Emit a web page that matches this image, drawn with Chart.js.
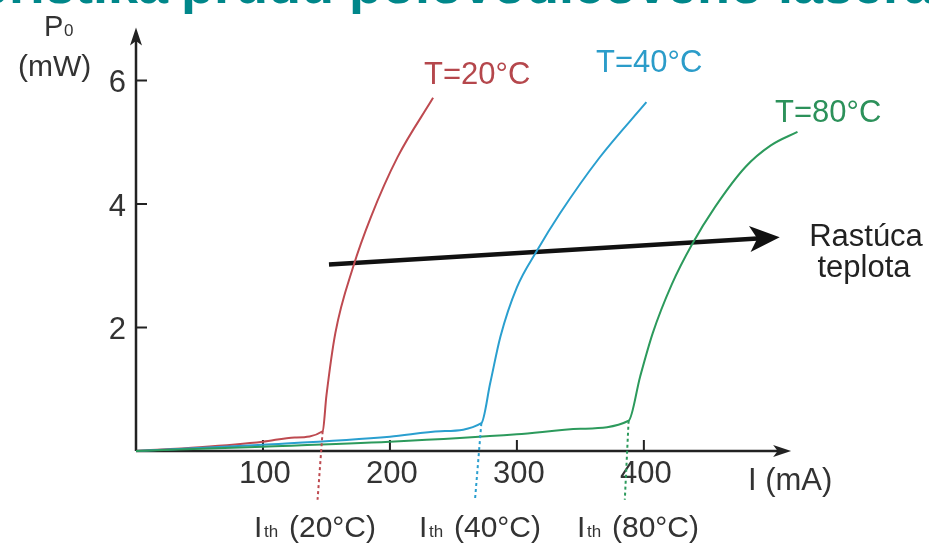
<!DOCTYPE html>
<html>
<head>
<meta charset="utf-8">
<script src="https://cdn.jsdelivr.net/npm/chart.js@4/dist/chart.umd.min.js"></script>
<style>
  body { margin: 0; background: #fff; }
  canvas { display: block; }
</style>
</head>
<body>
<canvas id="laserChart" width="929" height="544"></canvas>
<script>
// current (mA) vs optical power (mW) for the three temperatures
const current20 = [0, 50, 100, 125, 147, 150, 157, 171, 185, 206, 234];
const power20 = [0, 0.06, 0.15, 0.22, 0.32, 0.9, 1.91, 2.98, 3.79, 4.76, 5.72];

const current40 = [0, 100, 200, 240, 272, 279, 287, 300, 316, 334, 365, 402];
const power40 = [0, 0.1, 0.23, 0.32, 0.45, 1.1, 1.85, 2.65, 3.25, 3.85, 4.75, 5.65];

const current80 = [0, 100, 200, 300, 350, 388, 397, 407, 422, 438, 456, 480, 500, 521];
const power80 = [0, 0.07, 0.15, 0.27, 0.36, 0.49, 1.2, 1.91, 2.7, 3.35, 3.95, 4.6, 4.95, 5.17];

// threshold markers (kink down below the axis)
const thresholdCurrent = [[147, 143], [272, 267], [388, 385]];
const thresholdPower = [[0.32, -0.79], [0.45, -0.79], [0.49, -0.79]];

// "rising temperature" arrow
const arrowCurrent = [152, 496];
const arrowPower = [3.02, 3.45];

const xTicks = [100, 200, 300, 400];
const yTicks = [2, 4, 6];
const seriesLabels = ["T=20°C", "T=40°C", "T=80°C"];
const thresholdLabels = ["(20°C)", "(40°C)", "(80°C)"];

const RED = "#be4a50";
const BLUE = "#2a9fcf";
const GREEN = "#2c9a5c";
const FONT = "'Liberation Sans', Arial, sans-serif";

function toPoints(xs, ys) {
    return xs.map((x, i) => ({ x: x, y: ys[i] }));
}

function curve(xs, ys, color) {
    return {
        data: toPoints(xs, ys),
        showLine: true,
        borderColor: color,
        borderWidth: 2,
        pointRadius: 0,
        cubicInterpolationMode: "monotone",
        clip: false
    };
}

function dotted(i, color) {
    return {
        data: toPoints(thresholdCurrent[i], thresholdPower[i]),
        showLine: true,
        borderColor: color,
        borderWidth: 2,
        borderDash: [3, 3],
        pointRadius: 0,
        clip: false
    };
}

function arrowHead(ctx, x1, y1, x2, y2, len, half) {
    const a = Math.atan2(y2 - y1, x2 - x1);
    ctx.beginPath();
    ctx.moveTo(x2, y2);
    ctx.lineTo(x2 - len * Math.cos(a) + half * Math.sin(a), y2 - len * Math.sin(a) - half * Math.cos(a));
    ctx.lineTo(x2 - len * 0.75 * Math.cos(a), y2 - len * 0.75 * Math.sin(a));
    ctx.lineTo(x2 - len * Math.cos(a) - half * Math.sin(a), y2 - len * Math.sin(a) + half * Math.cos(a));
    ctx.closePath();
    ctx.fill();
}

const decorations = {
    id: "decorations",
    beforeDatasetsDraw(chart) {
        const ctx = chart.ctx;
        const xs = chart.scales.x;
        const ys = chart.scales.y;
        const x0 = xs.getPixelForValue(0);
        const y0 = ys.getPixelForValue(0);

        ctx.save();
        // cut-off title, only its lower edge is visible
        ctx.fillStyle = "#00878a";
        ctx.font = "bold 54px " + FONT;
        ctx.textBaseline = "alphabetic";
        ctx.textAlign = "right";
        ctx.fillText("charakteristika", 168, 3);
        ctx.textAlign = "left";
        ctx.fillText("prúdu polovodičového lasera", 181, 3);

        // axes
        ctx.strokeStyle = "#222";
        ctx.fillStyle = "#222";
        ctx.lineWidth = 2.5;
        const xEnd = xs.getPixelForValue(516);
        const yEnd = ys.getPixelForValue(6.86);
        ctx.beginPath();
        ctx.moveTo(x0, y0);
        ctx.lineTo(xEnd - 10, y0);
        ctx.moveTo(x0, y0);
        ctx.lineTo(x0, yEnd + 10);
        ctx.stroke();
        arrowHead(ctx, x0, y0, xEnd, y0, 18, 6);
        arrowHead(ctx, x0, y0, x0, yEnd, 18, 6);

        // ticks
        ctx.lineWidth = 2;
        ctx.beginPath();
        xTicks.forEach(v => {
            const px = xs.getPixelForValue(v);
            ctx.moveTo(px, y0);
            ctx.lineTo(px, y0 - 11);
        });
        yTicks.forEach(v => {
            const py = ys.getPixelForValue(v);
            ctx.moveTo(x0, py);
            ctx.lineTo(x0 + 11, py);
        });
        ctx.stroke();

        ctx.fillStyle = "#333";
        ctx.font = "31px " + FONT;
        ctx.textAlign = "center";
        ctx.textBaseline = "alphabetic";
        xTicks.forEach(v => {
            ctx.fillText(String(v), xs.getPixelForValue(v) + 2, y0 + 32);
        });
        ctx.textAlign = "right";
        ctx.textBaseline = "middle";
        yTicks.forEach(v => {
            ctx.fillText(String(v), x0 - 10, ys.getPixelForValue(v) + 3);
        });

        // axis titles
        ctx.textAlign = "left";
        ctx.textBaseline = "alphabetic";
        ctx.font = "29px " + FONT;
        ctx.fillText("P", 44, 36);
        ctx.font = "17px " + FONT;
        ctx.fillText("0", 64, 36);
        ctx.font = "30px " + FONT;
        ctx.fillText("(mW)", 18, 76);
        ctx.font = "31px " + FONT;
        ctx.fillText("I (mA)", 748, 490);

        // threshold labels
        const ithX = [254, 419, 577];
        ithX.forEach((x, i) => {
            ctx.font = "30px " + FONT;
            ctx.fillText("I", x, 537);
            ctx.font = "17px " + FONT;
            ctx.fillText("th", x + 10, 537);
            ctx.font = "30px " + FONT;
            ctx.fillText(thresholdLabels[i], x + 35, 537);
        });

        // series labels
        ctx.font = "31px " + FONT;
        ctx.fillStyle = "#b5474c";
        ctx.fillText(seriesLabels[0], 424, 84);
        ctx.fillStyle = "#2b9cc9";
        ctx.fillText(seriesLabels[1], 596, 72);
        ctx.fillStyle = "#2c915a";
        ctx.fillText(seriesLabels[2], 775, 122);

        // arrow caption
        ctx.fillStyle = "#222";
        ctx.textAlign = "center";
        ctx.fillText("Rastúca", 866, 246);
        ctx.fillText("teplota", 864, 277);
        ctx.restore();
    },
    afterDatasetsDraw(chart) {
        const ctx = chart.ctx;
        const xs = chart.scales.x;
        const ys = chart.scales.y;
        const x1 = xs.getPixelForValue(arrowCurrent[0]);
        const y1 = ys.getPixelForValue(arrowPower[0]);
        const x2 = xs.getPixelForValue(arrowCurrent[1]);
        const y2 = ys.getPixelForValue(arrowPower[1]);
        const a = Math.atan2(y2 - y1, x2 - x1);
        ctx.save();
        ctx.fillStyle = "#111";
        arrowHead(ctx, x1, y1, x2 + 14 * Math.cos(a), y2 + 14 * Math.sin(a), 30, 13);
        ctx.restore();
    }
};

new Chart(document.getElementById("laserChart"), {
    type: "scatter",
    data: {
        datasets: [
            dotted(0, RED),
            dotted(1, BLUE),
            dotted(2, GREEN),
            curve(current80, power80, GREEN),
            curve(current40, power40, BLUE),
            curve(current20, power20, RED),
            {
                data: toPoints(arrowCurrent, arrowPower),
                showLine: true,
                borderColor: "#111",
                borderWidth: 4.5,
                pointRadius: 0,
                clip: false
            }
        ]
    },
    options: {
        responsive: false,
        animation: false,
        layout: { padding: { left: 136, right: 82, top: 25, bottom: 93 } },
        plugins: {
            legend: { display: false },
            tooltip: { enabled: false }
        },
        scales: {
            x: { type: "linear", min: 0, max: 560, display: false },
            y: { type: "linear", min: 0, max: 6.9, display: false }
        }
    },
    plugins: [decorations]
});
</script>
</body>
</html>
